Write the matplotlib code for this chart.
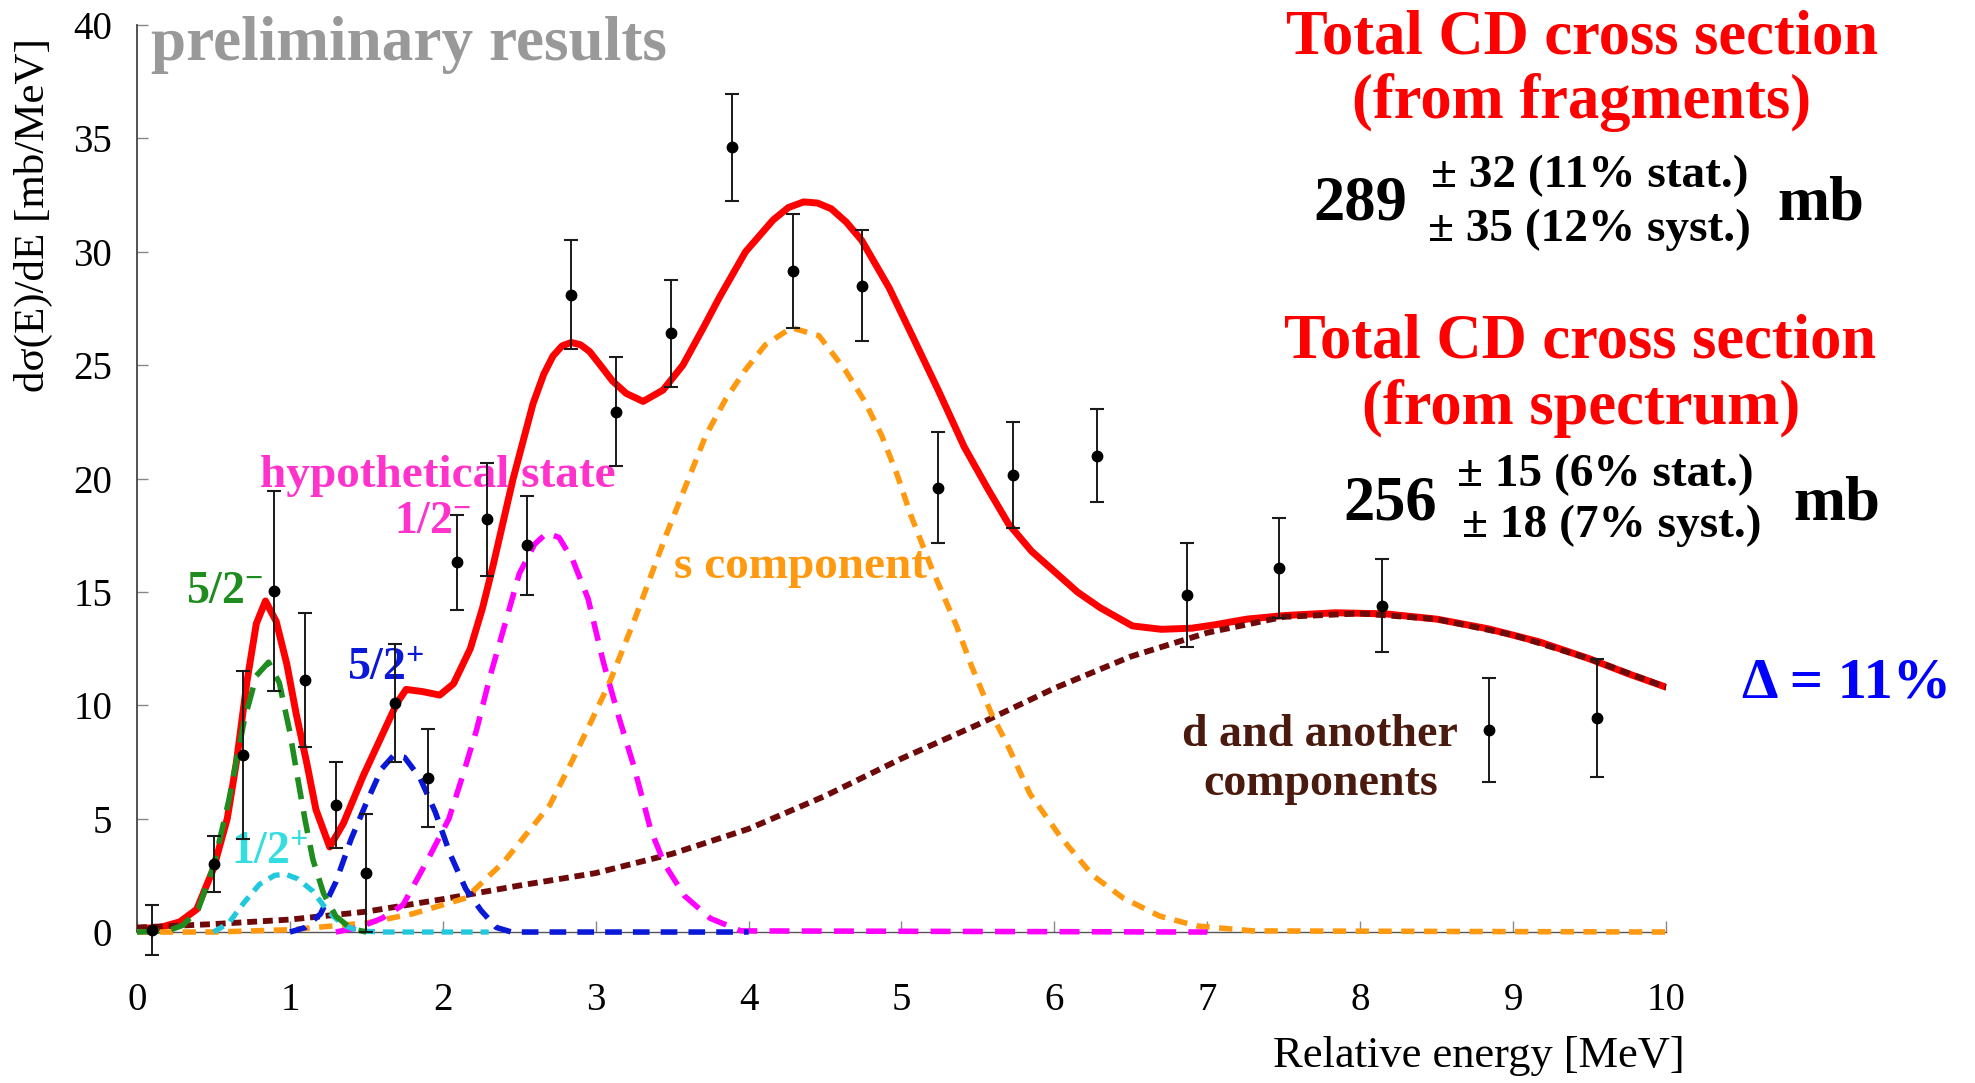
import matplotlib
matplotlib.use('Agg')
import matplotlib.pyplot as plt

#=====================================================
# data

# measured spectrum
data_energy = [0.10, 0.50, 0.69, 0.895, 1.10, 1.30, 1.50, 1.69, 1.90, 2.09, 2.29, 2.55, 2.84,
               3.13, 3.49, 3.89, 4.29, 4.74, 5.24, 5.73, 6.28, 6.87, 7.47, 8.14, 8.84, 9.55]
data_value = [0.1, 3.0, 7.8, 15.05, 11.1, 5.6, 2.6, 10.1, 6.8, 16.3, 18.2, 17.05, 28.1,
              22.95, 26.4, 34.6, 29.15, 28.5, 19.6, 20.15, 21.0, 14.85, 16.05, 14.4, 8.9, 9.45]
data_error = [1.1, 1.25, 3.7, 4.4, 2.95, 1.9, 2.6, 2.6, 2.15, 2.1, 2.5, 2.2, 2.4,
              2.4, 2.35, 2.35, 2.5, 2.45, 2.45, 2.35, 2.05, 2.3, 2.2, 2.05, 2.3, 2.6]

# total fit
total_energy = [0.0, 0.15, 0.28, 0.39, 0.5, 0.59, 0.65, 0.72, 0.78, 0.84, 0.91, 0.98, 1.04,
                1.11, 1.17, 1.26, 1.35, 1.48, 1.59, 1.70, 1.76, 1.87, 1.98, 2.07, 2.18, 2.26,
                2.33, 2.46, 2.59, 2.66, 2.72, 2.78, 2.84, 2.90, 2.96, 3.03, 3.11, 3.20, 3.31,
                3.44, 3.57, 3.70, 3.81, 3.98, 4.16, 4.26, 4.36, 4.45, 4.54, 4.64, 4.74, 4.92,
                5.07, 5.24, 5.41, 5.56, 5.70, 5.85, 6.00, 6.15, 6.30, 6.51, 6.70, 6.90, 7.05,
                7.26, 7.51, 7.84, 8.17, 8.50, 8.84, 9.17, 9.50, 9.75, 10.0]
total_value = [0.15, 0.2, 0.45, 1.0, 2.8, 5.0, 7.5, 11.1, 13.6, 14.6, 13.7, 11.8, 9.65,
               7.45, 5.4, 3.75, 4.8, 6.9, 8.5, 10.1, 10.7, 10.6, 10.45, 10.95, 12.5, 14.3,
               16.2, 20.0, 23.3, 24.6, 25.4, 25.85, 26.0, 25.9, 25.6, 25.0, 24.3, 23.75, 23.4,
               23.9, 25.0, 26.6, 28.0, 30.0, 31.4, 31.95, 32.2, 32.15, 31.9, 31.3, 30.5, 28.4,
               26.3, 23.9, 21.4, 19.6, 18.0, 16.8, 15.9, 15.0, 14.3, 13.5, 13.35, 13.4, 13.55,
               13.8, 13.96, 14.08, 14.03, 13.8, 13.37, 12.8, 12.05, 11.4, 10.8]

# 5/2- state
green_energy = [0.0, 0.2, 0.3, 0.4, 0.5, 0.6, 0.7, 0.78, 0.86, 0.93, 1.0, 1.05, 1.1, 1.15,
                1.22, 1.3, 1.4, 1.5]
green_value = [0.0, 0.05, 0.3, 1.0, 2.9, 5.8, 9.3, 11.3, 11.9, 11.0, 8.8, 6.8, 4.9, 3.2,
               1.7, 0.7, 0.15, 0.0]

# 1/2+ state
cyan_energy = [0.5, 0.6, 0.7, 0.8, 0.9, 0.97, 1.05, 1.15, 1.25, 1.35, 1.45, 1.6, 2.3]
cyan_value = [0.0, 0.4, 1.3, 2.1, 2.5, 2.55, 2.35, 1.8, 0.9, 0.3, 0.05, 0.0, 0.0]

# 5/2+ state
blue_energy = [1.0, 1.1, 1.2, 1.3, 1.4, 1.5, 1.6, 1.68, 1.75, 1.85, 1.95, 2.05, 2.15, 2.25,
               2.35, 2.45, 4.0]
blue_value = [0.0, 0.2, 0.8, 2.2, 4.1, 5.7, 7.2, 7.8, 7.7, 6.8, 5.3, 3.4, 1.9, 0.95,
              0.2, 0.0, 0.0]

# hypothetical 1/2- state
magenta_energy = [1.3, 1.45, 1.6, 1.74, 1.91, 2.04, 2.13, 2.22, 2.31, 2.42, 2.5, 2.6, 2.68,
                  2.76, 2.85, 2.95, 3.05, 3.15, 3.25, 3.36, 3.45, 3.58, 3.75, 3.95, 7.0]
magenta_value = [0.0, 0.2, 0.6, 1.2, 3.3, 5.0, 6.9, 8.9, 11.3, 13.9, 15.8, 17.1, 17.6,
                 17.4, 16.4, 14.7, 11.9, 9.5, 7.3, 4.5, 3.0, 1.6, 0.6, 0.05, 0.0]

# s component
orange_energy = [0.0, 0.5, 1.0, 1.5, 1.8, 2.15, 2.4, 2.7, 2.85, 2.95, 3.09, 3.25, 3.46, 3.59,
                 3.72, 3.85, 3.98, 4.11, 4.28, 4.46, 4.63, 4.76, 4.87, 4.97, 5.06, 5.2, 5.36,
                 5.46, 5.59, 5.69, 5.84, 6.04, 6.25, 6.45, 6.69, 6.93, 7.3, 10.0]
orange_value = [0.0, 0.0, 0.1, 0.4, 0.8, 1.5, 3.1, 5.6, 7.6, 9.0, 11.0, 13.7, 17.5, 19.7,
                21.9, 23.5, 24.8, 25.9, 26.65, 26.3, 24.8, 23.4, 21.9, 20.2, 18.4, 16.0, 13.5,
                11.7, 9.6, 8.3, 6.1, 4.2, 2.5, 1.5, 0.7, 0.27, 0.05, 0.0]

# d and another components
brown_energy = [0.0, 0.5, 1.0, 1.5, 2.0, 2.5, 3.0, 3.5, 4.0, 4.5, 5.0, 5.5, 6.0, 6.5, 7.0,
                7.5, 8.0, 8.5, 9.0, 9.5, 10.0]
brown_value = [0.2, 0.35, 0.55, 0.9, 1.45, 2.05, 2.6, 3.45, 4.55, 6.0, 7.65, 9.15, 10.75,
               12.15, 13.2, 13.9, 14.05, 13.8, 13.1, 12.05, 10.8]

x_ticks = [0, 1, 2, 3, 4, 5, 6, 7, 8, 9, 10]
y_ticks = [0, 5, 10, 15, 20, 25, 30, 35, 40]

#=====================================================

def main():

    plt.rcParams['font.family'] = ['Liberation Serif', 'DejaVu Serif']
    plt.rcParams['mathtext.fontset'] = 'custom'
    plt.rcParams['mathtext.rm'] = 'Liberation Serif:bold'
    plt.rcParams['mathtext.bf'] = 'Liberation Serif:bold'
    plt.rcParams['mathtext.it'] = 'Liberation Serif:bold'

    fig = plt.figure(figsize=(19.75, 10.83), dpi=100)
    ax = fig.add_axes([0.0694, 0.1394, 0.7741, 0.8375])

    plotCurves(ax)
    styleAxes(ax)
    addLabels(ax)
    addSideText(fig)

    fig.savefig('out.png', dpi=100)

    return

#-----------------------------------------------------

def plotCurves(ax):

    ax.plot(total_energy, total_value, color='#ff0000', linewidth=5.0,
            solid_capstyle='round', solid_joinstyle='round', zorder=3)

    ax.plot(brown_energy, brown_value, color='#6e0a0a', linewidth=4.2,
            linestyle=(0, (1.7, 1.0)), clip_on=False, zorder=4)
    ax.plot(orange_energy, orange_value, color='#ff9a10', linewidth=4.0,
            linestyle=(0, (2.4, 1.7)), clip_on=False, zorder=4)
    ax.plot(magenta_energy, magenta_value, color='#ff00ff', linewidth=4.0,
            linestyle=(0, (3.6, 2.2)), clip_on=False, zorder=4)
    ax.plot(blue_energy, blue_value, color='#0a18d8', linewidth=4.0,
            linestyle=(0, (3.0, 2.0)), clip_on=False, zorder=4)
    ax.plot(cyan_energy, cyan_value, color='#22c8dc', linewidth=3.8,
            linestyle=(0, (2.2, 1.5)), clip_on=False, zorder=4)
    ax.plot(green_energy, green_value, color='#1e8c1e', linewidth=4.0,
            linestyle=(0, (4.0, 2.2)), clip_on=False, zorder=4)

    ax.errorbar(data_energy, data_value, yerr=data_error, fmt='o', color='black',
                ecolor='#1a1a1a', markersize=7.5, elinewidth=1.4, capsize=5,
                capthick=1.5, clip_on=False, zorder=6)

    return

#-----------------------------------------------------

def styleAxes(ax):

    ax.set_xlim(0, 10)
    ax.set_ylim(0, 40)
    ax.set_xticks(x_ticks)
    ax.set_yticks(y_ticks)

    for side in ['top', 'right']:
        ax.spines[side].set_visible(False)
    ax.spines['left'].set_color('#444444')
    ax.spines['left'].set_linewidth(1.3)
    ax.spines['bottom'].set_color('#555555')
    ax.spines['bottom'].set_linewidth(1.0)

    ax.tick_params(axis='x', direction='in', length=8, width=1, color='#888888',
                   labelsize=28, pad=36)
    ax.tick_params(axis='y', direction='in', length=8, width=1, color='#888888',
                   labelsize=28, pad=18)

    ax.set_xlabel('Relative energy [MeV]', fontsize=32, ha='right')
    ax.xaxis.set_label_coords(1.012, -0.115)
    ax.set_ylabel('d\u03c3(E)/dE [mb/MeV]', fontsize=31)
    ax.yaxis.set_label_coords(-0.055, 0.79)

    return

#-----------------------------------------------------

def addLabels(ax):

    bold = dict(fontweight='bold', ha='center', va='center')

    ax.text(0.09, 39.1, 'preliminary results', color='#999999', fontsize=45.5,
            fontweight='bold', ha='left', va='center')

    ax.text(1.965, 20.1, 'hypothetical state', color='#ff33cc', fontsize=34, **bold)
    ax.text(1.935, 18.1, r'1/2$^{-}$', color='#ff33cc', fontsize=33, **bold)
    ax.text(0.575, 15.0, r'5/2$^{-}$', color='#1e8c1e', fontsize=33, **bold)
    ax.text(1.63, 11.6, r'5/2$^{+}$', color='#0a18d8', fontsize=33, **bold)
    ax.text(0.87, 3.5, r'1/2$^{+}$', color='#33dde0', fontsize=33, **bold)
    ax.text(4.34, 16.1, 's component', color='#ff9a10', fontsize=34, **bold)
    ax.text(7.74, 7.6, 'd and another\ncomponents', color='#4a1a0e', fontsize=33,
            linespacing=1.2, **bold)

    return

#-----------------------------------------------------

def addSideText(fig):

    W, H = 1975.0, 1083.0
    bold = dict(fontweight='bold', va='center')

    def put(x, y, s, size, color='black', ha='center'):
        fig.text(x / W, 1 - y / H, s, fontsize=size, color=color, ha=ha, **bold)

    put(1582, 38, 'Total CD cross section', 45, '#ff0000')
    put(1582, 103, '(from fragments)', 45, '#ff0000')
    put(1360, 204, '289', 45)
    put(1590, 176, '\u00b1 32 (11% stat.)', 34)
    put(1589, 230, '\u00b1 35 (12% syst.)', 34)
    put(1821, 204, 'mb', 45)

    put(1580, 343, 'Total CD cross section', 45, '#ff0000')
    put(1581, 409, '(from spectrum)', 45, '#ff0000')
    put(1390, 504, '256', 45)
    put(1605, 475, '\u00b1 15 (6% stat.)', 34)
    put(1612, 526, '\u00b1 18 (7% syst.)', 34)
    put(1837, 504, 'mb', 45)

    put(1847, 684, '\u0394 = 11%', 42, '#0000ff')

    return

#=====================================================

if __name__ == '__main__':
    main()
